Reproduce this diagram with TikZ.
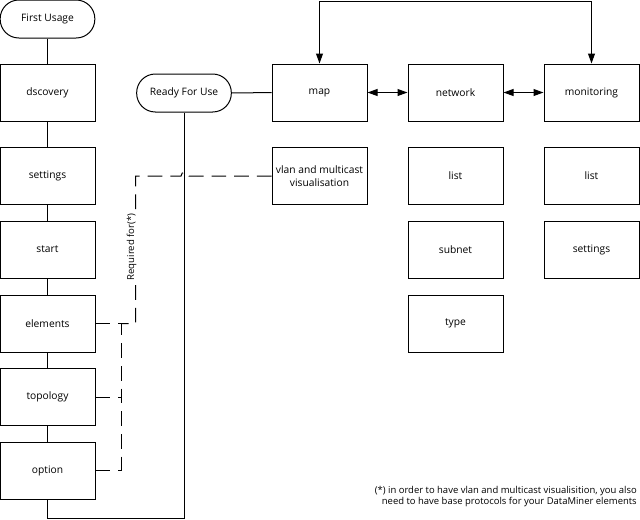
\documentclass[tikz,border=0pt]{standalone}
\usepackage{fontspec}
\setmainfont{Open Sans}
\usetikzlibrary{arrows.meta,positioning,calc}
\definecolor{ink}{HTML}{000000}
\tikzset{
  label/.style={font=\fontsize{7.7}{9.4}\selectfont,text=ink},
  note/.style={font=\fontsize{7.1}{8.2}\selectfont,text=ink,align=right},
  stepbox/.style={label,draw=ink,fill=white,line width=0.75pt,minimum width=71.25pt,minimum height=42.75pt,inner sep=1pt,align=center},
  term/.style={label,draw=ink,fill=white,line width=0.75pt,rounded corners=14pt,minimum width=71pt,minimum height=28.5pt},
  reqlabel/.style={font=\fontsize{7.2}{8.6}\selectfont,text=ink,fill=white,inner xsep=1pt,inner ysep=2.5pt,rotate=90},
  link/.style={draw=ink,line width=0.75pt},
  dashlink/.style={draw=ink,line width=0.75pt,dash pattern=on 11pt off 6pt},
  dblarr/.style={{Triangle[length=7.5pt,width=5.2pt]}-{Triangle[length=7.5pt,width=5.2pt]},draw=ink,line width=0.75pt}
}
\begin{document}
\begin{tikzpicture}[x=0.75pt,y=-0.75pt]
\path[use as bounding box] (0,0) rectangle (640,519);
\coordinate (top) at (0,1);
\coordinate (bottom) at (0,518);
\coordinate (brk) at (121,0);
\coordinate (req) at (135.5,0);

\node[term] (first) at (47.5,19) {First Usage};
\node[stepbox] (discovery) at (47.5,92.5) {dscovery};
\node[stepbox] (settings) at (47.5,176) {settings};
\node[stepbox] (start) at (47.5,249.5) {start};
\node[stepbox] (elements) at (47.5,323.5) {elements};
\node[stepbox] (topology) at (47.5,397) {topology};
\node[stepbox] (option) at (47.5,470.5) {option};

\node[term] (ready) at (184,93) {Ready For Use};

\node[stepbox] (map) at (319.5,92.5) {map};
\node[stepbox] (network) at (455.5,92.5) {network};
\node[stepbox] (monitoring) at (591.5,92.5) {monitoring};
\node[stepbox] (vlan) at (319.5,176) {vlan and multicast\\visualisation};
\node[stepbox] (netlist) at (455.5,176) {list};
\node[stepbox] (monlist) at (591.5,176) {list};
\node[stepbox] (subnet) at (455.5,249.5) {subnet};
\node[stepbox] (monsettings) at (591.5,249.5) {settings};
\node[stepbox] (type) at (455.5,323.5) {type};

\draw[link] (first) -- (discovery);
\draw[link] (discovery) -- (settings);
\draw[link] (settings) -- (start);
\draw[link] (start) -- (elements);
\draw[link] (elements) -- (topology);
\draw[link] (topology) -- (option);
\draw[link] (option.south) -- (option.south |- bottom) -| (ready.south);
\draw[link] (ready) -- (map);

\draw[dblarr] (map) -- (network);
\draw[dblarr] (network) -- (monitoring);
\draw[dblarr] (map.north) -- (map.north |- top) -| (monitoring.north);

\draw[dashlink] (vlan.west) -- (189,176) arc[start angle=0,end angle=-180,radius=4] -- (vlan.west -| req) -- (elements.east -| req) -- (elements.east -| brk);
\draw[dashlink] (elements.east) -- (elements.east -| brk) -- (option.east -| brk);
\draw[dashlink] (topology.east) -- (topology.east -| brk);
\draw[dashlink] (option.east) -- (option.east -| brk);
\node[reqlabel] (required) at (131.5,247) {Required for(*)};

\node[note,anchor=north east,inner sep=0pt] (footnote) at (637,486.5) {(*) in order to have vlan and multicast visualisition, you also\\need to have base protocols for your DataMiner elements};
\end{tikzpicture}
\end{document}
